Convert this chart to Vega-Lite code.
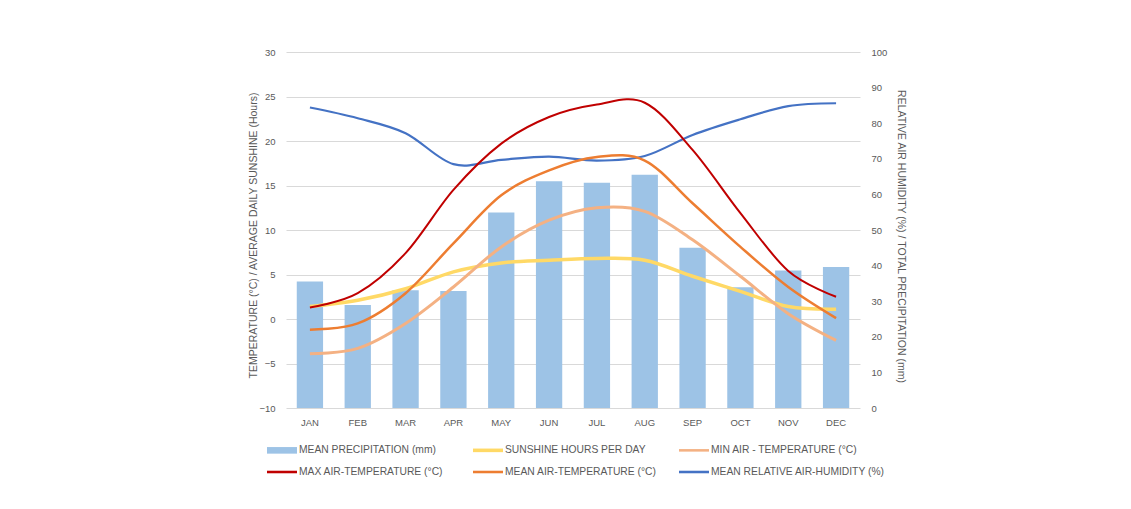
{
  "$schema": "https://vega.github.io/schema/vega-lite/v6.json",
  "autosize": {"type": "none"},
  "padding": {"left": 286, "top": 52, "right": 271, "bottom": 101},
  "width": 574,
  "height": 356,
  "background": "white",
  "config": {
    "font": "Liberation Sans",
    "view": {"stroke": null},
    "axis": {"labelColor": "#595959", "titleColor": "#595959", "labelFontSize": 9.5, "titleFontSize": 10.5, "titleFontWeight": "normal", "domain": false, "ticks": false, "labelOverlap": false}
  },
  "datasets": {
    "d": [
      {"month": "JAN", "series": "MEAN PRECIPITATION (mm)", "value": 35.5},
      {"month": "FEB", "series": "MEAN PRECIPITATION (mm)", "value": 28.9},
      {"month": "MAR", "series": "MEAN PRECIPITATION (mm)", "value": 33.1},
      {"month": "APR", "series": "MEAN PRECIPITATION (mm)", "value": 32.9},
      {"month": "MAY", "series": "MEAN PRECIPITATION (mm)", "value": 54.9},
      {"month": "JUN", "series": "MEAN PRECIPITATION (mm)", "value": 63.7},
      {"month": "JUL", "series": "MEAN PRECIPITATION (mm)", "value": 63.3},
      {"month": "AUG", "series": "MEAN PRECIPITATION (mm)", "value": 65.5},
      {"month": "SEP", "series": "MEAN PRECIPITATION (mm)", "value": 45.0},
      {"month": "OCT", "series": "MEAN PRECIPITATION (mm)", "value": 33.9},
      {"month": "NOV", "series": "MEAN PRECIPITATION (mm)", "value": 38.6},
      {"month": "DEC", "series": "MEAN PRECIPITATION (mm)", "value": 39.6},
      {"month": "JAN", "series": "MEAN RELATIVE AIR-HUMIDITY (%)", "value": 84.4},
      {"month": "FEB", "series": "MEAN RELATIVE AIR-HUMIDITY (%)", "value": 81.4},
      {"month": "MAR", "series": "MEAN RELATIVE AIR-HUMIDITY (%)", "value": 77.2},
      {"month": "APR", "series": "MEAN RELATIVE AIR-HUMIDITY (%)", "value": 68.5},
      {"month": "MAY", "series": "MEAN RELATIVE AIR-HUMIDITY (%)", "value": 69.7},
      {"month": "JUN", "series": "MEAN RELATIVE AIR-HUMIDITY (%)", "value": 70.6},
      {"month": "JUL", "series": "MEAN RELATIVE AIR-HUMIDITY (%)", "value": 69.5},
      {"month": "AUG", "series": "MEAN RELATIVE AIR-HUMIDITY (%)", "value": 70.8},
      {"month": "SEP", "series": "MEAN RELATIVE AIR-HUMIDITY (%)", "value": 76.7},
      {"month": "OCT", "series": "MEAN RELATIVE AIR-HUMIDITY (%)", "value": 81.1},
      {"month": "NOV", "series": "MEAN RELATIVE AIR-HUMIDITY (%)", "value": 84.8},
      {"month": "DEC", "series": "MEAN RELATIVE AIR-HUMIDITY (%)", "value": 85.6},
      {"month": "JAN", "series": "SUNSHINE HOURS PER DAY", "value": 1.4},
      {"month": "FEB", "series": "SUNSHINE HOURS PER DAY", "value": 2.1},
      {"month": "MAR", "series": "SUNSHINE HOURS PER DAY", "value": 3.4},
      {"month": "APR", "series": "SUNSHINE HOURS PER DAY", "value": 5.3},
      {"month": "MAY", "series": "SUNSHINE HOURS PER DAY", "value": 6.3},
      {"month": "JUN", "series": "SUNSHINE HOURS PER DAY", "value": 6.6},
      {"month": "JUL", "series": "SUNSHINE HOURS PER DAY", "value": 6.8},
      {"month": "AUG", "series": "SUNSHINE HOURS PER DAY", "value": 6.6},
      {"month": "SEP", "series": "SUNSHINE HOURS PER DAY", "value": 4.8},
      {"month": "OCT", "series": "SUNSHINE HOURS PER DAY", "value": 3.1},
      {"month": "NOV", "series": "SUNSHINE HOURS PER DAY", "value": 1.4},
      {"month": "DEC", "series": "SUNSHINE HOURS PER DAY", "value": 1.1},
      {"month": "JAN", "series": "MIN AIR - TEMPERATURE (°C)", "value": -3.9},
      {"month": "FEB", "series": "MIN AIR - TEMPERATURE (°C)", "value": -3.3},
      {"month": "MAR", "series": "MIN AIR - TEMPERATURE (°C)", "value": -0.5},
      {"month": "APR", "series": "MIN AIR - TEMPERATURE (°C)", "value": 3.6},
      {"month": "MAY", "series": "MIN AIR - TEMPERATURE (°C)", "value": 8.1},
      {"month": "JUN", "series": "MIN AIR - TEMPERATURE (°C)", "value": 11.1},
      {"month": "JUL", "series": "MIN AIR - TEMPERATURE (°C)", "value": 12.5},
      {"month": "AUG", "series": "MIN AIR - TEMPERATURE (°C)", "value": 12.1},
      {"month": "SEP", "series": "MIN AIR - TEMPERATURE (°C)", "value": 8.9},
      {"month": "OCT", "series": "MIN AIR - TEMPERATURE (°C)", "value": 4.8},
      {"month": "NOV", "series": "MIN AIR - TEMPERATURE (°C)", "value": 0.6},
      {"month": "DEC", "series": "MIN AIR - TEMPERATURE (°C)", "value": -2.4},
      {"month": "JAN", "series": "MEAN AIR-TEMPERATURE (°C)", "value": -1.2},
      {"month": "FEB", "series": "MEAN AIR-TEMPERATURE (°C)", "value": -0.5},
      {"month": "MAR", "series": "MEAN AIR-TEMPERATURE (°C)", "value": 2.9},
      {"month": "APR", "series": "MEAN AIR-TEMPERATURE (°C)", "value": 8.5},
      {"month": "MAY", "series": "MEAN AIR-TEMPERATURE (°C)", "value": 13.9},
      {"month": "JUN", "series": "MEAN AIR-TEMPERATURE (°C)", "value": 16.7},
      {"month": "JUL", "series": "MEAN AIR-TEMPERATURE (°C)", "value": 18.2},
      {"month": "AUG", "series": "MEAN AIR-TEMPERATURE (°C)", "value": 17.8},
      {"month": "SEP", "series": "MEAN AIR-TEMPERATURE (°C)", "value": 13.0},
      {"month": "OCT", "series": "MEAN AIR-TEMPERATURE (°C)", "value": 8.1},
      {"month": "NOV", "series": "MEAN AIR-TEMPERATURE (°C)", "value": 3.6},
      {"month": "DEC", "series": "MEAN AIR-TEMPERATURE (°C)", "value": 0.1},
      {"month": "JAN", "series": "MAX AIR-TEMPERATURE (°C)", "value": 1.3},
      {"month": "FEB", "series": "MAX AIR-TEMPERATURE (°C)", "value": 2.9},
      {"month": "MAR", "series": "MAX AIR-TEMPERATURE (°C)", "value": 7.4},
      {"month": "APR", "series": "MAX AIR-TEMPERATURE (°C)", "value": 14.5},
      {"month": "MAY", "series": "MAX AIR-TEMPERATURE (°C)", "value": 19.7},
      {"month": "JUN", "series": "MAX AIR-TEMPERATURE (°C)", "value": 22.7},
      {"month": "JUL", "series": "MAX AIR-TEMPERATURE (°C)", "value": 24.1},
      {"month": "AUG", "series": "MAX AIR-TEMPERATURE (°C)", "value": 24.3},
      {"month": "SEP", "series": "MAX AIR-TEMPERATURE (°C)", "value": 19.0},
      {"month": "OCT", "series": "MAX AIR-TEMPERATURE (°C)", "value": 11.9},
      {"month": "NOV", "series": "MAX AIR-TEMPERATURE (°C)", "value": 5.4},
      {"month": "DEC", "series": "MAX AIR-TEMPERATURE (°C)", "value": 2.5}
    ]
  },
  "data": {"name": "d"},
  "encoding": {
    "x": {
      "field": "month", "type": "nominal",
      "sort": ["JAN","FEB","MAR","APR","MAY","JUN","JUL","AUG","SEP","OCT","NOV","DEC"],
      "scale": {"paddingInner": 0.45, "paddingOuter": 0.225},
      "axis": {"title": null, "labelAngle": 0, "labelPadding": 9, "grid": false}
    }
  },
  "layer": [
    {
      "encoding": {
        "y": {
          "field": "value", "type": "quantitative",
          "scale": {"domain": [0, 100], "nice": false, "zero": true},
          "axis": {"orient": "right", "values": [0,10,20,30,40,50,60,70,80,90,100], "labelOverlap": false, "grid": false, "labelPadding": 11, "titlePadding": 9, "titleY": 184, "title": "RELATIVE AIR HUMIDITY (%) / TOTAL PRECIPITATION (mm)"}
        }
      },
      "layer": [
        {
          "transform": [{"filter": "datum.series === 'MEAN PRECIPITATION (mm)'"}],
          "mark": {"type": "bar"},
          "encoding": {
            "color": {
              "field": "series", "type": "nominal",
              "scale": {
                "domain": ["MEAN PRECIPITATION (mm)", "SUNSHINE HOURS PER DAY", "MIN AIR - TEMPERATURE (°C)", "MAX AIR-TEMPERATURE (°C)", "MEAN AIR-TEMPERATURE (°C)", "MEAN RELATIVE AIR-HUMIDITY (%)"],
                "range": ["#9DC3E6", "#FFD966", "#F4B183", "#C00000", "#ED7D31", "#4472C4"]
              },
              "legend": {
                "orient": "none", "legendX": -19, "legendY": 383, "direction": "horizontal", "columns": 3,
                "title": null, "symbolType": "M-1,-0.09H1V0.09H-1Z", "symbolSize": 900, "symbolStrokeWidth": 0,
                "labelFontSize": 10.3, "labelColor": "#595959", "labelOffset": 2, "labelLimit": 300,
                "gridAlign": "all", "columnPadding": -12, "rowPadding": 1,
                "encode": {"symbols": {"update": {
                  "fill": {"scale": "color", "field": "value"},
                  "fillOpacity": {"value": 1},
                  "strokeWidth": {"value": 0},
                  "shape": {"signal": "datum.value === 'MEAN PRECIPITATION (mm)' ? 'M-1,-0.22H1V0.22H-1Z' : (datum.value === 'SUNSHINE HOURS PER DAY' ? 'M-1,-0.12H1V0.12H-1Z' : 'M-1,-0.085H1V0.085H-1Z')"}
                }}}
              }
            }
          }
        },
        {
          "transform": [{"filter": "datum.series === 'MEAN RELATIVE AIR-HUMIDITY (%)'"}],
          "mark": {"type": "line", "interpolate": "cardinal", "strokeWidth": 2.2},
          "encoding": {
            "color": {"field": "series", "type": "nominal"}
          }
        }
      ]
    },
    {
      "transform": [{"filter": "datum.series !== 'MEAN PRECIPITATION (mm)' && datum.series !== 'MEAN RELATIVE AIR-HUMIDITY (%)'"}],
      "mark": {"type": "line", "interpolate": "cardinal"},
      "encoding": {
        "y": {
          "field": "value", "type": "quantitative",
          "scale": {"domain": [-10, 30], "nice": false},
          "axis": {"orient": "left", "values": [-10,-5,0,5,10,15,20,25,30], "grid": true, "gridColor": "#d9d9d9", "labelPadding": 11, "titlePadding": 0, "titleY": 183, "title": "TEMPERATURE (°C)  / AVERAGE DAILY SUNSHINE (Hours)"}
        },
        "color": {"field": "series", "type": "nominal"},
        "strokeWidth": {
          "field": "series", "type": "nominal",
          "scale": {"domain": ["SUNSHINE HOURS PER DAY", "MIN AIR - TEMPERATURE (°C)", "MEAN AIR-TEMPERATURE (°C)", "MAX AIR-TEMPERATURE (°C)"], "range": [3.5, 2, 2, 2.2]},
          "legend": null
        },
        "order": {"field": "series"}
      }
    }
  ],
  "resolve": {"scale": {"y": "independent"}}
}
